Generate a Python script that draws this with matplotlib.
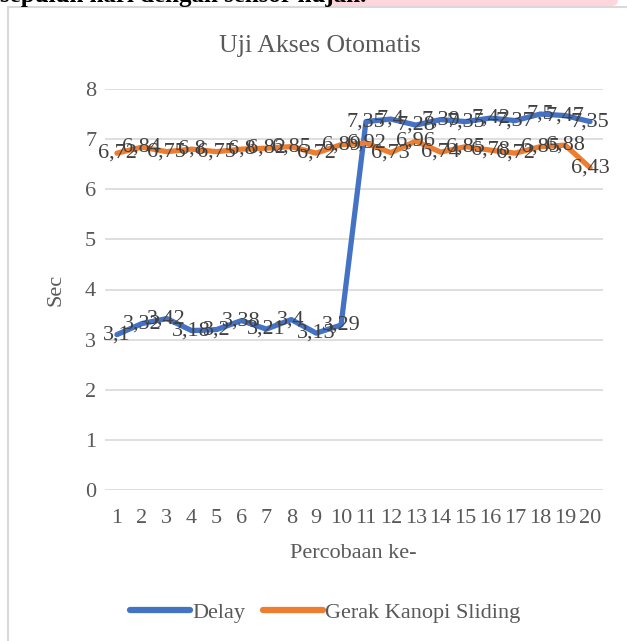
import matplotlib.pyplot as plt
from matplotlib.patches import Rectangle, FancyBboxPatch
from matplotlib.lines import Line2D

plt.rcParams['font.family'] = ['Liberation Serif', 'DejaVu Serif']

percobaan = list(range(1, 21))
delay = [3.1, 3.32, 3.42, 3.18, 3.2, 3.38, 3.21, 3.4, 3.13, 3.29,
         7.35, 7.4, 7.28, 7.39, 7.35, 7.42, 7.37, 7.5, 7.47, 7.35]
kanopi = [6.72, 6.84, 6.75, 6.8, 6.75, 6.8, 6.82, 6.85, 6.72, 6.89,
          6.92, 6.73, 6.96, 6.74, 6.85, 6.78, 6.72, 6.85, 6.88, 6.43]

BLUE = '#4472C4'
ORANGE = '#ED7D31'
TXT = '#595959'
GRID = '#D9D9D9'
FS = 16


def fmt(v):
	s = ('%.2f' % v).rstrip('0').rstrip('.')
	return s.replace('.', ',')


W, H = 627, 641
fig = plt.figure(figsize=(W / 100, H / 100), dpi=100)

# cropped line of the document above the chart
fig.patches.append(FancyBboxPatch((328 / W, 1 - 6 / H), 290 / W, 12 / H,
                                  boxstyle='round,pad=0,rounding_size=0.01',
                                  transform=fig.transFigure, facecolor='#FFD6DC',
                                  edgecolor='none', zorder=0))
fig.text(0.0, 1 - 2 / H, 'sepuluh hari dengan sensor hujan.', fontsize=18,
         fontweight='bold', color='black', va='baseline', ha='left')

# chart area border
fig.patches.append(Rectangle((8 / W, -0.01), 1.0, 1 - 7 / H + 0.01,
                             transform=fig.transFigure, facecolor='white',
                             edgecolor=GRID, linewidth=1.5, zorder=0.5))

ax = fig.add_axes([104.5 / W, 151 / H, 498 / W, 401 / H])
ax.set_facecolor('none')
ax.set_zorder(2)

ax.plot(percobaan, delay, color=BLUE, linewidth=3.8, solid_capstyle='round', zorder=3)
ax.plot(percobaan, kanopi, color=ORANGE, linewidth=3.8, solid_capstyle='round', zorder=3)

for x, v in zip(percobaan, delay):
	ax.text(x, v, fmt(v), ha='center', va='center', fontsize=FS, color='#404040', zorder=4)
for x, v in zip(percobaan, kanopi):
	ax.text(x, v, fmt(v), ha='center', va='center', fontsize=FS, color='#404040', zorder=4)

ax.set_xlim(0.5, 20.5)
ax.set_ylim(0, 8)
ax.set_xticks(percobaan)
ax.set_xticklabels([str(i) for i in percobaan])
ax.set_yticks(range(0, 9))
ax.grid(axis='y', color=GRID, linewidth=1.2)
ax.set_axisbelow(True)
for s in ax.spines.values():
	s.set_visible(False)
ax.tick_params(length=0, labelsize=FS, labelcolor=TXT)
ax.tick_params(axis='x', pad=14)
ax.tick_params(axis='y', pad=6)

fig.text(320 / W, 1 - 46 / H, 'Uji Akses Otomatis', fontsize=18.5, color=TXT,
         ha='center', va='center')
ax.set_xlabel('Percobaan ke-', fontsize=FS, color=TXT, labelpad=11)
ax.set_ylabel('Sec', fontsize=FS, color=TXT, labelpad=14)

handles = [Line2D([], [], color=BLUE, linewidth=4.5, solid_capstyle='round'),
           Line2D([], [], color=ORANGE, linewidth=4.5, solid_capstyle='round')]
fig.legend(handles, ['Delay', 'Gerak Kanopi Sliding'], loc='center',
           bbox_to_anchor=(325 / W, 1 - 613 / H), ncol=2, frameon=False,
           fontsize=FS, labelcolor=TXT, handlelength=2.7, handletextpad=0.1,
           columnspacing=0.8)

fig.savefig('out.png', dpi=100)
